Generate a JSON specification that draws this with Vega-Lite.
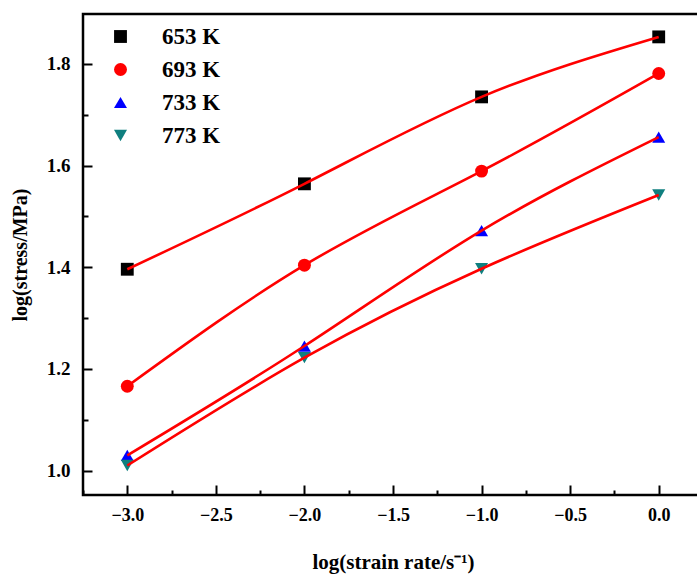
{
  "$schema": "https://vega.github.io/schema/vega-lite/v6.json",
  "width": 620,
  "height": 481,
  "autosize": {"type": "none"},
  "padding": {"left": 83, "top": 14, "right": 0, "bottom": 82},
  "background": "white",
  "config": {
    "font": "Liberation Serif",
    "view": {"stroke": "black", "strokeWidth": 2.5},
    "axis": {"domain": false, "grid": false, "tickColor": "black", "tickWidth": 2, "labelFont": "Liberation Serif", "labelFontWeight": "bold", "labelColor": "black", "titleFont": "Liberation Serif", "titleFontWeight": "bold", "titleColor": "black"}
  },
  "data": {"values": [
    {"x": -3, "y": 1.396, "T": "653 K"},
    {"x": -2, "y": 1.564, "T": "653 K"},
    {"x": -1, "y": 1.735, "T": "653 K"},
    {"x": 0, "y": 1.853, "T": "653 K"},
    {"x": -3, "y": 1.166, "T": "693 K"},
    {"x": -2, "y": 1.404, "T": "693 K"},
    {"x": -1, "y": 1.589, "T": "693 K"},
    {"x": 0, "y": 1.781, "T": "693 K"},
    {"x": -3, "y": 1.03, "T": "733 K"},
    {"x": -2, "y": 1.245, "T": "733 K"},
    {"x": -1, "y": 1.472, "T": "733 K"},
    {"x": 0, "y": 1.656, "T": "733 K"},
    {"x": -3, "y": 1.01, "T": "773 K"},
    {"x": -2, "y": 1.222, "T": "773 K"},
    {"x": -1, "y": 1.397, "T": "773 K"},
    {"x": 0, "y": 1.542, "T": "773 K"}
  ]},
  "resolve": {"axis": {"x": "independent", "y": "independent"}},
  "layer": [
    {
      "mark": {"type": "point", "filled": true, "opacity": 1},
      "encoding": {
        "x": {"field": "x", "type": "quantitative", "scale": {"domain": [-3.25, 0.25], "nice": false, "zero": false},
          "axis": {"orient": "top", "offset": -481, "values": [-3, -2.5, -2, -1.5, -1, -0.5, 0], "format": ".1f", "tickSize": 10, "labelFontSize": 18, "labelBaseline": "top", "labelPadding": -21, "title": "log(strain rate/s⁻¹)", "titleFontSize": 21, "titleBaseline": "alphabetic", "titleY": 73}},
        "y": {"field": "y", "type": "quantitative", "scale": {"domain": [0.952, 1.898], "nice": false, "zero": false},
          "axis": {"orient": "right", "offset": -620, "values": [1.0, 1.2, 1.4, 1.6, 1.8], "format": ".1f", "tickSize": 9, "labelFontSize": 19, "labelAlign": "right", "labelPadding": -22, "title": "log(stress/MPa)", "titleFontSize": 20, "titleAngle": 270, "titleBaseline": "middle", "titleX": -63}},
        "color": {"field": "T", "type": "nominal", "scale": {"domain": ["653 K", "693 K", "733 K", "773 K"], "range": ["#000000", "#ff0000", "#0000ff", "#0f7f7f"]},
          "legend": {"orient": "none", "legendX": 26, "legendY": 11, "title": null, "labelFont": "Liberation Serif", "labelFontWeight": "bold", "labelFontSize": 23, "labelColor": "black", "symbolSize": 200, "symbolOpacity": 1, "labelOffset": 30, "rowPadding": 9, "padding": 0}},
        "shape": {"field": "T", "type": "nominal", "scale": {"domain": ["653 K", "693 K", "733 K", "773 K"], "range": ["square", "circle", "triangle-up", "triangle-down"]}},
        "size": {"field": "T", "type": "nominal", "scale": {"domain": ["653 K", "693 K", "733 K", "773 K"], "range": [165, 170, 230, 230]}, "legend": null}
      }
    },
    {
      "mark": {"type": "line", "color": "#ff0000", "strokeWidth": 2.6, "interpolate": "natural"},
      "encoding": {
        "x": {"field": "x", "type": "quantitative", "axis": {"orient": "top", "offset": -481, "values": [-3.25, -2.75, -2.25, -1.75, -1.25, -0.75, -0.25, 0.25], "tickSize": 5, "labels": false, "title": null}},
        "y": {"field": "y", "type": "quantitative", "axis": {"orient": "right", "offset": -620, "values": [1.1, 1.3, 1.5, 1.7], "tickSize": 5, "labels": false, "title": null}},
        "detail": {"field": "T", "type": "nominal"}
      }
    }
  ]
}
